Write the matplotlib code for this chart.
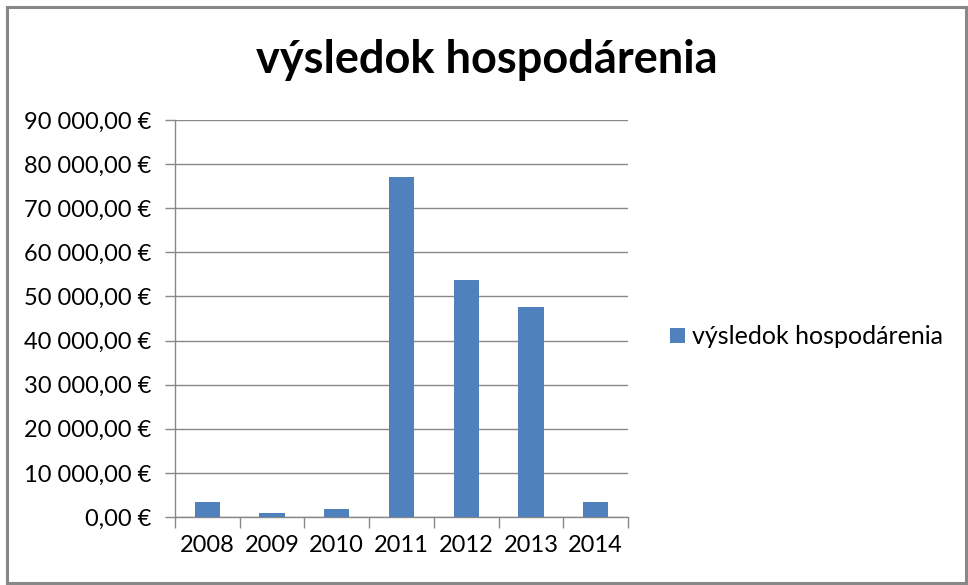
import matplotlib
matplotlib.use("Agg")
import matplotlib.pyplot as plt
from matplotlib.patches import Rectangle
from matplotlib.ticker import FuncFormatter, FixedLocator

years = ["2008", "2009", "2010", "2011", "2012", "2013", "2014"]
values = [3500, 900, 1750, 77100, 53800, 47700, 3500]
series_name = "výsledok hospodárenia"
title = "výsledok hospodárenia"

plt.rcParams['font.family'] = ['Lato', 'DejaVu Sans']

W, H = 968, 585
fig = plt.figure(figsize=(W / 100, H / 100), dpi=100)
fig.patch.set_facecolor("white")

# outer border
fig.add_artist(Rectangle((7 / W, 2 / H), 959 / W, 576 / H, transform=fig.transFigure,
                         fill=False, edgecolor="#888888", linewidth=2.2))

ax = fig.add_axes([175 / W, 1 - 517 / H, (628 - 175) / W, (517 - 120) / H])
x = list(range(len(years)))
bars = ax.bar(x, values, width=0.39, color="#4F81BD", label=series_name, zorder=3)

ax.set_xlim(-0.5, len(years) - 0.5)
ax.set_ylim(0, 90000)
ax.set_yticks(range(0, 90001, 10000))


def fmt(v, pos):
    s = f"{v:,.2f}".replace(",", " ").replace(".", ",")
    return s + " €"


ax.yaxis.set_major_formatter(FuncFormatter(fmt))
ax.set_xticks(x)
ax.set_xticklabels(years)
ax.tick_params(axis="x", which="major", length=0, pad=13, labelsize=17)
ax.xaxis.set_minor_locator(FixedLocator([i + 0.5 for i in range(-1, len(years))]))
ax.tick_params(axis="x", which="minor", length=8, color="#888888", width=1)
ax.tick_params(axis="y", length=7, color="#888888", width=1, labelsize=17, pad=10)

ax.grid(axis="y", color="#888888", linewidth=1, zorder=0)
for s in ["top", "right"]:
    ax.spines[s].set_visible(False)
for s in ["left", "bottom"]:
    ax.spines[s].set_color("#888888")
    ax.spines[s].set_linewidth(1)

fig.text(487 / W, 1 - 60 / H, title, ha="center", va="center", fontsize=32.5, fontweight="bold")

leg = fig.legend(handles=[bars], labels=[series_name], loc="center left",
                 bbox_to_anchor=(670 / W, 1 - 337 / H), frameon=False, fontsize=18,
                 handlelength=0.58, handleheight=0.58, handletextpad=0.3,
                 borderpad=0, borderaxespad=0)

fig.savefig("out.png", dpi=100, facecolor="white")
